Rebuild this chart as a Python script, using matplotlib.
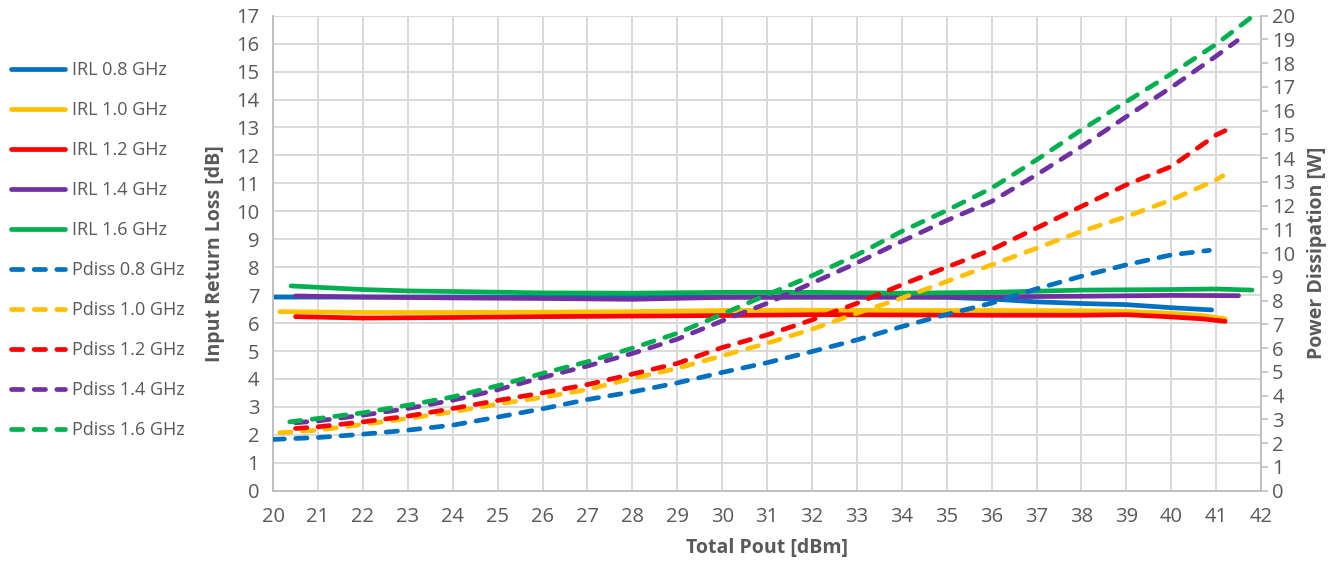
import matplotlib.pyplot as plt

# Input return loss [dB] (left axis)
irl_08_x = [20, 22, 24, 26, 28, 30, 32, 34, 35, 36, 37, 38, 39, 40, 40.9]
irl_08 = [6.93, 6.93, 6.93, 6.92, 6.92, 6.93, 6.93, 6.93, 6.92, 6.86, 6.76, 6.7, 6.66, 6.55, 6.47]
irl_10_x = [20.15, 22, 24, 26, 28, 30, 32, 34, 36, 38, 39, 40, 40.7, 41.2]
irl_10 = [6.41, 6.38, 6.38, 6.39, 6.41, 6.45, 6.46, 6.45, 6.45, 6.44, 6.42, 6.35, 6.27, 6.15]
irl_12_x = [20.5, 22, 24, 26, 28, 30, 32, 34, 36, 38, 39, 40, 40.7, 41.2]
irl_12 = [6.23, 6.18, 6.2, 6.23, 6.25, 6.27, 6.3, 6.29, 6.28, 6.28, 6.3, 6.22, 6.15, 6.06]
irl_14_x = [20.5, 22, 24, 26, 28, 30, 32, 34, 36, 38, 40, 41.5]
irl_14 = [6.97, 6.93, 6.9, 6.88, 6.85, 6.92, 6.93, 6.93, 6.94, 6.96, 6.99, 6.98]
irl_16_x = [20.4, 21, 22, 23, 24, 26, 28, 30, 32, 34, 36, 38, 40, 41, 41.8]
irl_16 = [7.33, 7.28, 7.2, 7.15, 7.13, 7.08, 7.07, 7.1, 7.1, 7.07, 7.1, 7.18, 7.2, 7.22, 7.18]

# Power dissipation [W] (right axis)
pd_08_x = [20, 21, 22, 23, 24, 25, 26, 27, 28, 29, 30, 31, 32, 33, 34, 35, 36, 37, 38, 39, 40, 40.85]
pd_08 = [2.16, 2.24, 2.38, 2.55, 2.76, 3.1, 3.45, 3.84, 4.16, 4.54, 4.98, 5.39, 5.86, 6.35, 6.91,
         7.42, 7.9, 8.5, 9.03, 9.51, 9.93, 10.12]
pd_10_x = [20.15, 21, 22, 23, 24, 25, 26, 27, 28, 29, 30, 31, 32, 33, 34, 35, 36, 37, 38, 39, 40, 41, 41.15]
pd_10 = [2.44, 2.55, 2.79, 3.04, 3.32, 3.65, 3.93, 4.26, 4.73, 5.15, 5.68, 6.21, 6.8, 7.47, 8.11,
         8.81, 9.51, 10.21, 10.92, 11.54, 12.24, 13.09, 13.26]
pd_12_x = [20.5, 21, 22, 23, 24, 25, 26, 27, 28, 29, 30, 31, 32, 33, 34, 35, 36, 37, 38, 39, 40, 41, 41.2]
pd_12 = [2.62, 2.69, 2.9, 3.14, 3.46, 3.8, 4.12, 4.47, 4.91, 5.36, 6.03, 6.56, 7.19, 7.89, 8.67,
         9.41, 10.15, 11.06, 11.97, 12.88, 13.65, 14.98, 15.16]
pd_14_x = [20.5, 21, 22, 23, 24, 25, 26, 27, 28, 29, 30, 31, 32, 33, 34, 35, 36, 37, 38, 39, 40, 41, 41.47]
pd_14 = [2.86, 2.94, 3.18, 3.46, 3.81, 4.25, 4.77, 5.25, 5.78, 6.38, 7.15, 7.89, 8.74, 9.59, 10.5,
         11.38, 12.18, 13.3, 14.49, 15.75, 16.98, 18.3, 18.95]
pd_16_x = [20.37, 21, 22, 23, 24, 25, 26, 27, 28, 29, 30, 31, 32, 33, 34, 35, 36, 37, 38, 39, 40, 41, 41.83]
pd_16 = [2.9, 3.04, 3.28, 3.6, 3.95, 4.42, 4.94, 5.43, 6.0, 6.63, 7.43, 8.25, 9.05, 9.93, 10.92,
         11.8, 12.74, 13.93, 15.19, 16.38, 17.55, 18.8, 20.0]

freqs = ['0.8', '1.0', '1.2', '1.4', '1.6']
colors = ['#0070C0', '#FFC000', '#FF0000', '#7030A0', '#00B050']
irl_series = [(irl_08_x, irl_08), (irl_10_x, irl_10), (irl_12_x, irl_12),
              (irl_14_x, irl_14), (irl_16_x, irl_16)]
pd_series = [(pd_08_x, pd_08), (pd_10_x, pd_10), (pd_12_x, pd_12),
             (pd_14_x, pd_14), (pd_16_x, pd_16)]

plt.rcParams['font.family'] = ['Open Sans', 'DejaVu Sans']
text_col = '#595959'
grid_col = '#D9D9D9'
lw = 3.4

fig = plt.figure(figsize=(13.36, 5.71), dpi=100)
ax = fig.add_axes([0.2044, 0.1406, 0.7395, 0.8319])
ax2 = ax.twinx()

handles = []
for (x, y), c, f in zip(irl_series, colors, freqs):
    h, = ax.plot(x, y, color=c, lw=lw, solid_capstyle='round', label=f'IRL {f} GHz')
    handles.append(h)
for (x, y), c, f in zip(pd_series, colors, freqs):
    h, = ax2.plot(x, y, color=c, lw=lw, linestyle=(0, (2.4, 2.4)), dash_capstyle='round',
                  label=f'Pdiss {f} GHz')
    handles.append(h)

ax.set_xlim(20, 42)
ax.set_ylim(0, 17)
ax2.set_ylim(0, 20)
ax.set_xticks(range(20, 43))
ax.set_yticks(range(0, 18))
ax2.set_yticks(range(0, 21))

ax.grid(True, color=grid_col, lw=1.4)
ax.set_axisbelow(True)
for a in (ax, ax2):
    for s in a.spines.values():
        s.set_visible(False)
ax.spines['left'].set_visible(True)
ax.spines['bottom'].set_visible(True)
ax.spines['left'].set_color('#BFBFBF')
ax.spines['bottom'].set_color('#BFBFBF')
ax2.spines['right'].set_visible(True)
ax2.spines['right'].set_color('#BFBFBF')
ax.spines['left'].set_linewidth(1.4)
ax.spines['bottom'].set_linewidth(1.4)
ax2.spines['right'].set_linewidth(1.4)

ax.tick_params(axis='both', length=0, labelsize=14.5, colors=text_col, pad=10)
ax.tick_params(axis='x', pad=12)
ax2.tick_params(axis='y', length=5, width=1.2, color='#BFBFBF', labelsize=14.5,
                labelcolor=text_col, pad=3)

ax.set_xlabel('Total Pout [dBm]', fontsize=14, fontweight='bold', color=text_col, labelpad=8)
ax.set_ylabel('Input Return Loss [dB]', fontsize=14, fontweight='bold', color=text_col, labelpad=8)
ax2.set_ylabel('Power Dissipation [W]', fontsize=14, fontweight='bold', color=text_col,
               rotation=90, labelpad=8)

leg = fig.legend(handles=handles, loc='upper left', bbox_to_anchor=(0.0, 0.912),
                 frameon=False, fontsize=13, handlelength=3.0, handletextpad=0.4,
                 labelspacing=1.22, borderaxespad=0.2)
for t in leg.get_texts():
    t.set_color(text_col)

fig.savefig('out.png', dpi=100)
plt.close(fig)
